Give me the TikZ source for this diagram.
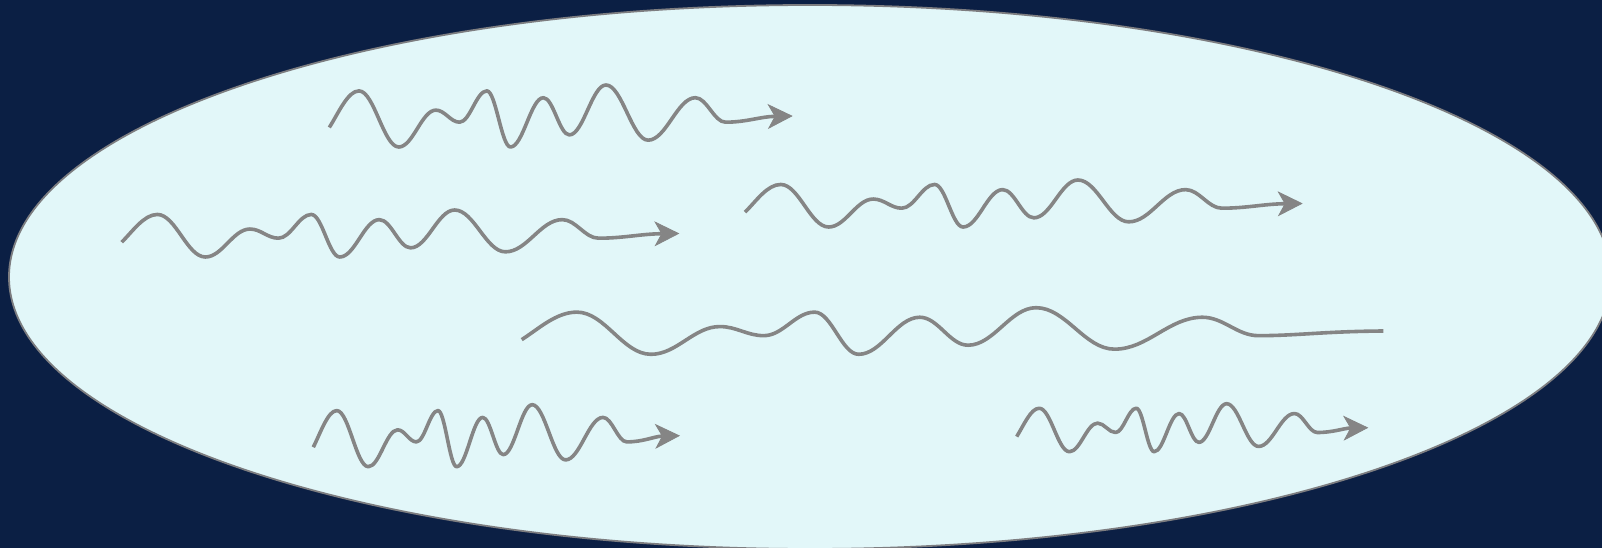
\documentclass[tikz,border=0pt]{standalone}
\usetikzlibrary{arrows.meta}
\definecolor{bgnavy}{RGB}{11,31,68}
\definecolor{cellfill}{RGB}{226,247,249}
\definecolor{rimgray}{RGB}{125,125,128}
\definecolor{wavegray}{RGB}{133,133,133}
\newcommand{\wavetpl}{(0,-0.37)
 .. controls (0.02,0.1) and (0.040,0.81) .. (0.064,0.81)
 .. controls (0.0967,0.81) and (0.1173,-1.0) .. (0.150,-1.0)
 .. controls (0.1804,-1.0) and (0.1996,0.19) .. (0.230,0.19)
 .. controls (0.2494,0.19) and (0.2616,-0.2) .. (0.281,-0.2)
 .. controls (0.3034,-0.2) and (0.3176,0.81) .. (0.340,0.81)
 .. controls (0.3594,0.81) and (0.3716,-1.0) .. (0.391,-1.0)
 .. controls (0.418,-1.0) and (0.435,0.59) .. (0.462,0.59)
 .. controls (0.4833,0.59) and (0.4967,-0.61) .. (0.518,-0.61)
 .. controls (0.548,-0.61) and (0.567,1.0) .. (0.597,1.0)
 .. controls (0.6316,1.0) and (0.6534,-0.78) .. (0.688,-0.78)
 .. controls (0.7268,-0.78) and (0.7512,0.59) .. (0.790,0.59)
 .. controls (0.8147,0.59) and (0.8303,-0.2) .. (0.855,-0.2)
 .. controls (0.90,-0.2) and (0.93,-0.02) .. (1,0)}
\tikzset{
  wave/.style={draw=wavegray, line width=3.6pt, line cap=butt, line join=round},
  wavearrow/.style={-{Stealth[length=25pt,width=25pt,inset=7pt,line width=0.8pt]}},
  cell/.style={draw=rimgray, fill=cellfill, line width=1.8pt}
}
\begin{document}
\begin{tikzpicture}[x=1pt,y=-1pt]
\useasboundingbox (0,0) rectangle (1602,548);
\fill[bgnavy] (0,0) rectangle (1602,548);
\clip (0,0) rectangle (1602,548);
\path[cell] (810,277) ellipse [x radius=801pt, y radius=272pt];
% wave 1 (top)
\begin{scope}[shift={(329.3,116)}, xscale=463.4, yscale=-31]
  \draw[wave,wavearrow] \wavetpl;
\end{scope}
% wave 2 (left middle)
\begin{scope}[shift={(121.7,233.5)}, xscale=557.7, yscale=-23.5]
  \draw[wave,wavearrow] \wavetpl;
\end{scope}
% wave 3 (right upper)
\begin{scope}[shift={(745,203.5)}, xscale=557.7, yscale=-23.5]
  \draw[wave,wavearrow] \wavetpl;
\end{scope}
% wave 4 (long, no arrow)
\begin{scope}[shift={(521.7,331)}, xscale=861.6, yscale=-23.3]
  \draw[wave] \wavetpl;
\end{scope}
% wave 5 (bottom left)
\begin{scope}[shift={(313.3,435.7)}, xscale=366.7, yscale=-31]
  \draw[wave,wavearrow] \wavetpl;
\end{scope}
% wave 6 (bottom right)
\begin{scope}[shift={(1016.7,427.7)}, xscale=351.6, yscale=-24]
  \draw[wave,wavearrow] \wavetpl;
\end{scope}
\end{tikzpicture}
\end{document}
